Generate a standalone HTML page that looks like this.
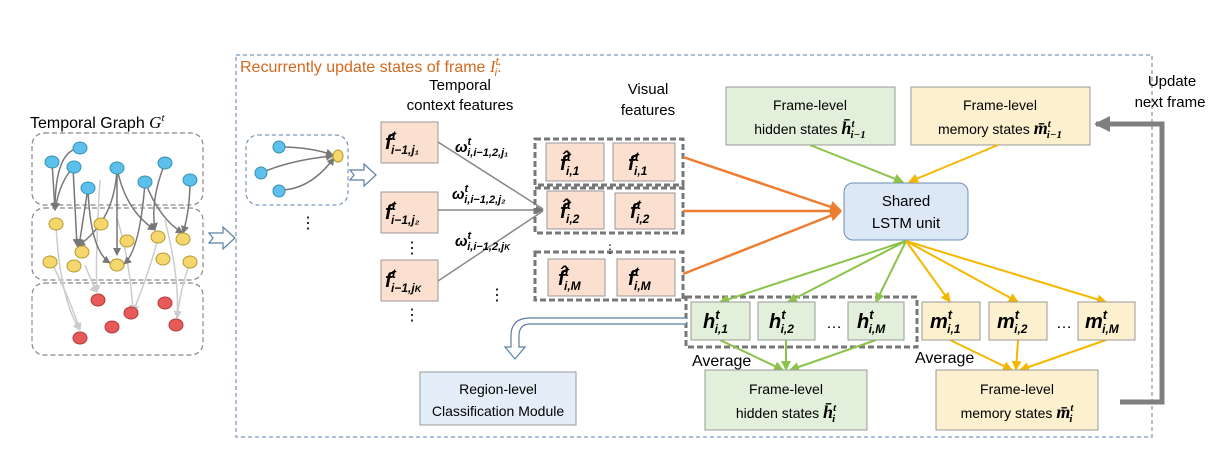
<!DOCTYPE html>
<html><head><meta charset="utf-8"><style>
body{margin:0;background:#fff}
svg text{font-family:"Liberation Sans",sans-serif}
.m{font-family:"Liberation Serif",serif;font-weight:bold;font-style:italic}
</style></head><body>
<svg width="1228" height="458" viewBox="0 0 1228 458" xmlns="http://www.w3.org/2000/svg">
<defs>
<marker id="ag" markerWidth="8" markerHeight="8" refX="7" refY="4" orient="auto" markerUnits="userSpaceOnUse"><path d="M0,0L8,4L0,8z" fill="#777"/></marker>
<marker id="al" markerWidth="8" markerHeight="8" refX="7" refY="4" orient="auto" markerUnits="userSpaceOnUse"><path d="M0,0L8,4L0,8z" fill="#ccc"/></marker>
<marker id="ao" markerWidth="12" markerHeight="12" refX="10" refY="6" orient="auto" markerUnits="userSpaceOnUse"><path d="M0,0L12,6L0,12z" fill="#ed7d31"/></marker>
<marker id="agr" markerWidth="10" markerHeight="10" refX="9" refY="5" orient="auto" markerUnits="userSpaceOnUse"><path d="M0,0L10,5L0,10z" fill="#8bc34a"/></marker>
<marker id="ay" markerWidth="10" markerHeight="10" refX="9" refY="5" orient="auto" markerUnits="userSpaceOnUse"><path d="M0,0L10,5L0,10z" fill="#f5b800"/></marker>
<marker id="abig" markerWidth="16" markerHeight="16" refX="14" refY="8" orient="auto" markerUnits="userSpaceOnUse"><path d="M0,0L16,8L0,16z" fill="#7f7f7f"/></marker>
</defs>
<rect x="236" y="55" width="916" height="382" fill="none" stroke="#5b7fa8" stroke-dasharray="4,3"/>
<text x="240" y="72" fill="#d2691e" font-size="16">Recurrently update states of frame <tspan font-family="Liberation Serif" font-style="italic" font-size="17">I</tspan><tspan font-size="11" dy="-7" font-style="italic">t</tspan><tspan font-size="11" dx="-4" dy="11" font-style="italic">i</tspan><tspan dy="-4">:</tspan></text>
<text x="30" y="128" font-size="16">Temporal Graph <tspan font-style="italic" font-family="Liberation Serif" font-size="17">G</tspan><tspan font-size="11" dy="-7" font-style="italic" font-family="Liberation Serif">t</tspan></text>
<g fill="none" stroke="#888" stroke-dasharray="5,3" stroke-width="1.2">
<rect x="32" y="133" width="171" height="72" rx="12"/>
<rect x="32" y="208" width="171" height="72" rx="12"/>
<rect x="32" y="283" width="171" height="72" rx="12"/>
</g>
<g stroke="#ccc" stroke-width="1.5" fill="none" marker-end="url(#al)">
<path d="M56,225 Q60,300 80,330"/><path d="M52,263 Q70,300 80,330"/><path d="M85,265 Q95,290 97,292"/>
<path d="M100,180 Q95,260 97,292"/><path d="M117,218 Q130,260 133,312"/><path d="M158,238 Q150,270 133,312"/>
<path d="M165,220 Q180,280 177,318"/><path d="M190,262 Q180,290 177,318"/>
</g>
<g stroke="#777" stroke-width="1.5" fill="none" marker-end="url(#ag)">
<path d="M80,148 Q55,150 55,210"/><path d="M52,162 L55,210"/><path d="M74,167 Q60,180 55,210"/>
<path d="M73,167 L77,246"/><path d="M88,188 L79,246"/><path d="M117,168 Q115,220 78,246"/>
<path d="M88,188 Q90,250 110,263"/><path d="M117,168 L117,255"/><path d="M145,182 Q140,250 124,264"/>
<path d="M117,168 Q125,210 155,230"/><path d="M165,163 Q150,200 155,230"/><path d="M190,180 Q190,210 183,233"/>
<path d="M145,182 Q160,220 183,233"/>
</g>
<g fill="#5bc0eb" stroke="#3a8fb0"><ellipse cx="80" cy="148" rx="7" ry="6"/><ellipse cx="52" cy="162" rx="7" ry="6"/><ellipse cx="74" cy="167" rx="7" ry="6"/><ellipse cx="88" cy="188" rx="7" ry="6"/><ellipse cx="117" cy="168" rx="7" ry="6"/><ellipse cx="145" cy="182" rx="7" ry="6"/><ellipse cx="165" cy="163" rx="7" ry="6"/><ellipse cx="190" cy="180" rx="7" ry="6"/></g>
<g fill="#f5d76e" stroke="#b59a30"><ellipse cx="56" cy="224" rx="7" ry="6"/><ellipse cx="101" cy="224" rx="7" ry="6"/><ellipse cx="127" cy="241" rx="7" ry="6"/><ellipse cx="158" cy="237" rx="7" ry="6"/><ellipse cx="183" cy="239" rx="7" ry="6"/><ellipse cx="82" cy="252" rx="7" ry="6"/><ellipse cx="117" cy="265" rx="7" ry="6"/><ellipse cx="50" cy="262" rx="7" ry="6"/><ellipse cx="74" cy="266" rx="7" ry="6"/><ellipse cx="163" cy="259" rx="7" ry="6"/><ellipse cx="190" cy="262" rx="7" ry="6"/></g>
<g fill="#e85a5a" stroke="#b03a3a"><ellipse cx="98" cy="300" rx="7" ry="6"/><ellipse cx="131" cy="313" rx="7" ry="6"/><ellipse cx="165" cy="303" rx="7" ry="6"/><ellipse cx="112" cy="327" rx="7" ry="6"/><ellipse cx="176" cy="325" rx="7" ry="6"/><ellipse cx="80" cy="338" rx="7" ry="6"/></g>
<path d="M209,233 h14 v-6 l12,11 -12,11 v-6 h-14 l4,-5z" fill="#fff" stroke="#5b7fa8" stroke-width="1.2"/>
<path d="M350,170 h14 v-6 l12,11 -12,11 v-6 h-14 l4,-5z" fill="#fff" stroke="#5b7fa8" stroke-width="1.2"/>
<rect x="246" y="135" width="102" height="70" rx="12" fill="none" stroke="#5b7fa8" stroke-dasharray="4,3"/>
<g stroke="#777" stroke-width="1.5" fill="none" marker-end="url(#ag)"><path d="M280,147 Q310,147 333,155"/><path d="M261,173 Q290,160 333,156"/><path d="M280,190 Q310,190 334,158"/></g>
<ellipse cx="279" cy="147" rx="6" ry="6" fill="#5bc0eb" stroke="#3a8fb0"/><ellipse cx="261" cy="173" rx="6" ry="6" fill="#5bc0eb" stroke="#3a8fb0"/><ellipse cx="279" cy="191" rx="6" ry="6" fill="#5bc0eb" stroke="#3a8fb0"/><ellipse cx="338" cy="156" rx="5" ry="6" fill="#f5d76e" stroke="#b59a30"/>
<text x="300" y="228" font-size="16">⋮</text>
<text x="460" y="90" font-size="15" text-anchor="middle">Temporal</text>
<text x="460" y="110" font-size="15" text-anchor="middle">context features</text>
<g fill="#fbe0d0" stroke="#999"><rect x="381" y="122" width="57" height="41"/><rect x="381" y="192" width="57" height="41"/><rect x="381" y="260" width="57" height="41"/></g>
<g font-size="20" class="m"><text x="385" y="149">f<tspan font-size="13" dy="-9">t</tspan><tspan font-size="12" dx="-5" dy="14">i−1,j₁</tspan></text>
<text x="385" y="219">f<tspan font-size="13" dy="-9">t</tspan><tspan font-size="12" dx="-5" dy="14">i−1,j₂</tspan></text>
<text x="385" y="287">f<tspan font-size="13" dy="-9">t</tspan><tspan font-size="12" dx="-5" dy="14">i−1,j<tspan font-size="9">K</tspan></tspan></text></g>
<text x="404" y="253" font-size="16">⋮</text><text x="404" y="320" font-size="16">⋮</text><text x="489" y="300" font-size="16">⋮</text>
<g stroke="#888" stroke-width="1.5" fill="none"><line x1="438" y1="142" x2="543" y2="209"/><line x1="438" y1="210" x2="543" y2="210" marker-end="url(#ag)"/><line x1="438" y1="281" x2="543" y2="211"/></g>
<g class="m" font-size="15"><text x="455" y="152">ω<tspan font-size="11" dy="-7">t</tspan><tspan font-size="11" dx="-4" dy="11">i,i−1,2,j₁</tspan></text>
<text x="452" y="199">ω<tspan font-size="11" dy="-7">t</tspan><tspan font-size="11" dx="-4" dy="11">i,i−1,2,j₂</tspan></text>
<text x="455" y="246">ω<tspan font-size="11" dy="-7">t</tspan><tspan font-size="11" dx="-4" dy="11">i,i−1,2,j<tspan font-size="8">K</tspan></tspan></text></g>
<text x="648" y="94" font-size="15" text-anchor="middle">Visual</text><text x="648" y="115" font-size="15" text-anchor="middle">features</text>
<g fill="none" stroke="#777" stroke-width="3" stroke-dasharray="6,3"><rect x="535" y="139" width="148" height="46"/><rect x="535" y="188" width="148" height="45"/><rect x="535" y="252" width="148" height="48"/><rect x="686" y="297" width="231" height="50"/></g>
<g fill="#fbe0d0" stroke="#999"><rect x="546" y="143" width="58" height="38"/><rect x="613" y="143" width="62" height="38"/><rect x="547" y="191" width="57" height="38"/><rect x="615" y="193" width="60" height="36"/><rect x="548" y="259" width="57" height="37"/><rect x="617" y="259" width="58" height="37"/></g>
<g class="m" font-size="20"><text x="560" y="170">f̂<tspan font-size="13" dy="-9">t</tspan><tspan font-size="12" dx="-5" dy="14">i,1</tspan></text><text x="628" y="170">f<tspan font-size="13" dy="-9">t</tspan><tspan font-size="12" dx="-5" dy="14">i,1</tspan></text>
<text x="560" y="218">f̂<tspan font-size="13" dy="-9">t</tspan><tspan font-size="12" dx="-5" dy="14">i,2</tspan></text><text x="630" y="218">f<tspan font-size="13" dy="-9">t</tspan><tspan font-size="12" dx="-5" dy="14">i,2</tspan></text>
<text x="558" y="285">f̂<tspan font-size="13" dy="-9">t</tspan><tspan font-size="12" dx="-5" dy="14">i,M</tspan></text><text x="628" y="285">f<tspan font-size="13" dy="-9">t</tspan><tspan font-size="12" dx="-5" dy="14">i,M</tspan></text></g>
<text x="604" y="253" font-size="12">⋮</text>
<g stroke="#ed7d31" stroke-width="2.5" fill="none" marker-end="url(#ao)"><line x1="683" y1="157" x2="840" y2="210"/><line x1="683" y1="211" x2="840" y2="211"/><line x1="683" y1="274" x2="840" y2="212"/></g>
<rect x="844" y="183" width="124" height="57" rx="9" fill="#dce8f5" stroke="#6a8db5"/>
<text x="906" y="206" font-size="15" text-anchor="middle">Shared</text><text x="906" y="228" font-size="15" text-anchor="middle">LSTM unit</text>
<rect x="726" y="87" width="169" height="58" fill="#e2efda" stroke="#999"/>
<rect x="911" y="87" width="179" height="58" fill="#fdf0cf" stroke="#999"/>
<text x="810" y="110" font-size="14" text-anchor="middle">Frame-level</text><text x="810" y="134" font-size="14" text-anchor="middle">hidden states <tspan class="m" font-size="18">h̄</tspan><tspan class="m" font-size="11" dy="-7">t</tspan><tspan class="m" font-size="11" dx="-4" dy="11">i−1</tspan></text>
<text x="1000" y="110" font-size="14" text-anchor="middle">Frame-level</text><text x="1000" y="134" font-size="14" text-anchor="middle">memory states <tspan class="m" font-size="18">m̄</tspan><tspan class="m" font-size="11" dy="-7">t</tspan><tspan class="m" font-size="11" dx="-4" dy="11">i−1</tspan></text>
<g stroke="#8bc34a" stroke-width="2" fill="none" marker-end="url(#agr)"><line x1="810" y1="145" x2="903" y2="182"/><line x1="906" y1="241" x2="720" y2="302"/><line x1="906" y1="241" x2="788" y2="302"/><line x1="906" y1="241" x2="876" y2="302"/>
<line x1="720" y1="340" x2="783" y2="370"/><line x1="786" y1="340" x2="786" y2="370"/><line x1="876" y1="340" x2="790" y2="370"/></g>
<g stroke="#f5b800" stroke-width="2" fill="none" marker-end="url(#ay)"><line x1="998" y1="145" x2="909" y2="182"/><line x1="906" y1="241" x2="950" y2="302"/><line x1="906" y1="241" x2="1018" y2="302"/><line x1="906" y1="241" x2="1106" y2="302"/>
<line x1="950" y1="340" x2="1012" y2="370"/><line x1="1018" y1="340" x2="1016" y2="370"/><line x1="1106" y1="340" x2="1020" y2="370"/></g>
<g fill="#e2efda" stroke="#999"><rect x="691" y="302" width="59" height="38"/><rect x="758" y="302" width="57" height="38"/><rect x="848" y="302" width="56" height="38"/></g>
<g fill="#fdf0cf" stroke="#999"><rect x="922" y="302" width="58" height="38"/><rect x="989" y="302" width="58" height="38"/><rect x="1078" y="302" width="57" height="38"/></g>
<g class="m" font-size="20"><text x="703" y="328">h<tspan font-size="13" dy="-9">t</tspan><tspan font-size="12" dx="-5" dy="14">i,1</tspan></text><text x="769" y="328">h<tspan font-size="13" dy="-9">t</tspan><tspan font-size="12" dx="-5" dy="14">i,2</tspan></text><text x="857" y="328">h<tspan font-size="13" dy="-9">t</tspan><tspan font-size="12" dx="-5" dy="14">i,M</tspan></text>
<text x="930" y="328">m<tspan font-size="13" dy="-9">t</tspan><tspan font-size="12" dx="-5" dy="14">i,1</tspan></text><text x="997" y="328">m<tspan font-size="13" dy="-9">t</tspan><tspan font-size="12" dx="-5" dy="14">i,2</tspan></text><text x="1085" y="328">m<tspan font-size="13" dy="-9">t</tspan><tspan font-size="12" dx="-5" dy="14">i,M</tspan></text></g>
<text x="826" y="328" font-size="16">…</text><text x="1056" y="328" font-size="16">…</text>
<text x="692" y="366" font-size="16">Average</text><text x="915" y="363" font-size="16">Average</text>
<rect x="705" y="370" width="162" height="60" fill="#e2efda" stroke="#999"/>
<rect x="936" y="370" width="162" height="60" fill="#fdf0cf" stroke="#999"/>
<text x="786" y="394" font-size="14" text-anchor="middle">Frame-level</text><text x="786" y="418" font-size="14" text-anchor="middle">hidden states <tspan class="m" font-size="18">h̄</tspan><tspan class="m" font-size="11" dy="-7">t</tspan><tspan class="m" font-size="11" dx="-4" dy="11">i</tspan></text>
<text x="1017" y="394" font-size="14" text-anchor="middle">Frame-level</text><text x="1017" y="418" font-size="14" text-anchor="middle">memory states <tspan class="m" font-size="18">m̄</tspan><tspan class="m" font-size="11" dy="-7">t</tspan><tspan class="m" font-size="11" dx="-4" dy="11">i</tspan></text>
<path d="M1120,402 H1162 V124 H1096" fill="none" stroke="#7f7f7f" stroke-width="5" marker-end="url(#abig)"/>
<text x="1172" y="86" font-size="15" text-anchor="middle">Update</text><text x="1170" y="107" font-size="15" text-anchor="middle">next frame</text>
<path d="M686,318 H530 Q511,318 511,336 V347 h-6 l10,12 10,-12 h-6 V336 Q519,324 530,324 H686" fill="#fff" stroke="#5b7fa8" stroke-width="1.2"/>
<rect x="420" y="372" width="156" height="53" fill="#e3eef8" stroke="#999"/>
<text x="498" y="394" font-size="14" text-anchor="middle">Region-level</text><text x="498" y="416" font-size="14" text-anchor="middle">Classification  Module</text>
</svg>
</body></html>
